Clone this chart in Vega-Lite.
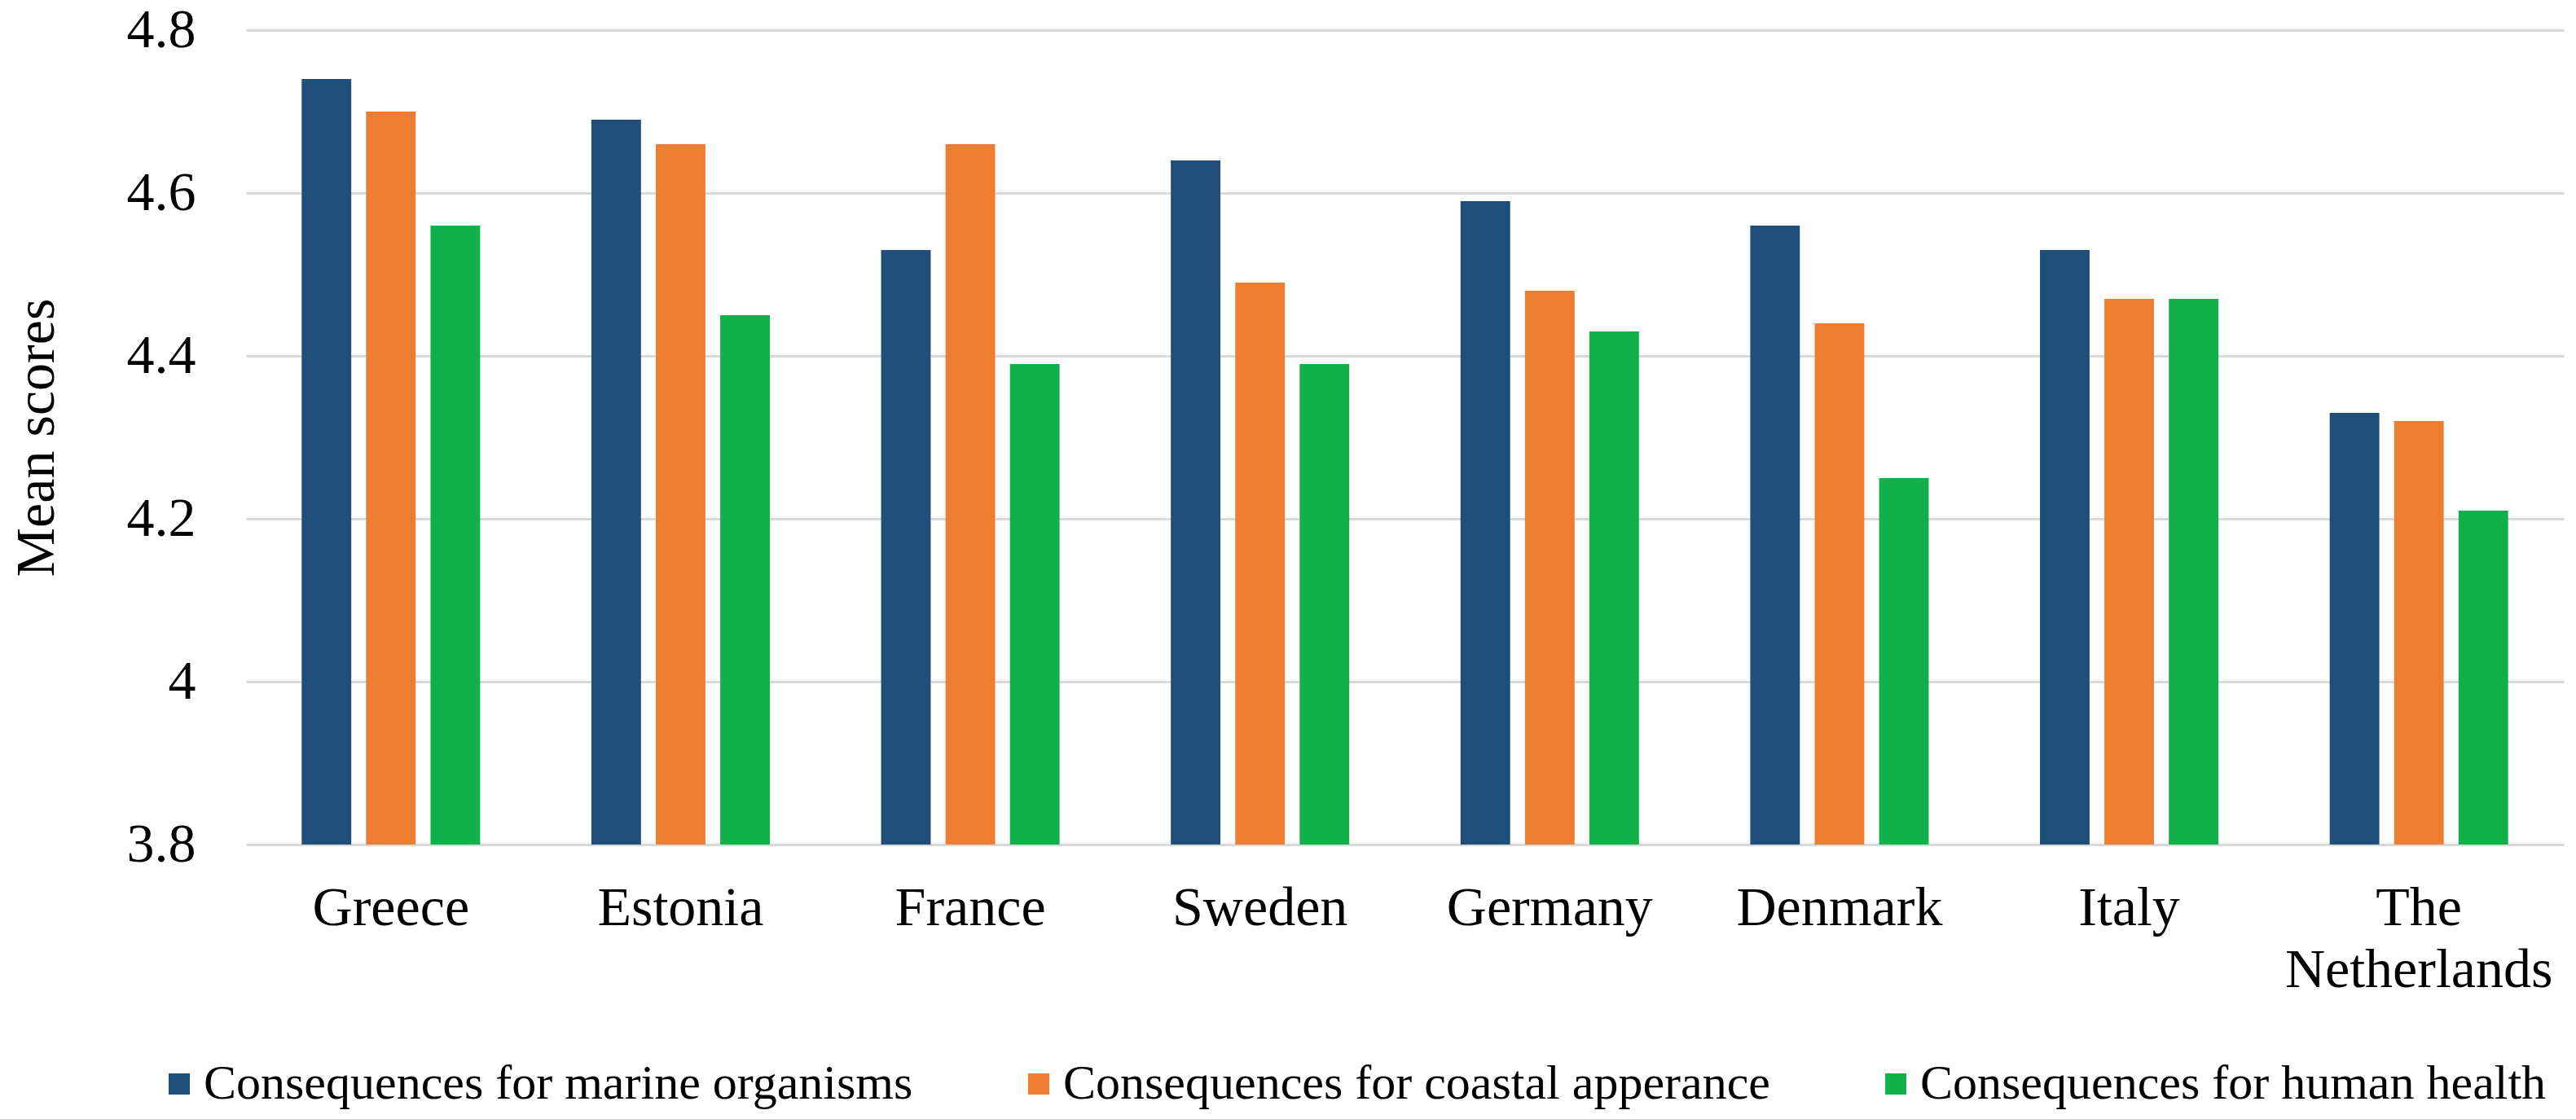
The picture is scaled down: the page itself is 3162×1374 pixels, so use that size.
{
  "$schema": "https://vega.github.io/schema/vega-lite/v6.json",
  "width": 2845,
  "height": 1000,
  "autosize": {"type": "none"},
  "padding": {"left": 302, "top": 37, "right": 15, "bottom": 337},
  "background": "white",
  "data": {
    "values": [
      {"country": "Greece", "series": "Consequences for marine organisms", "score": 4.74},
      {"country": "Greece", "series": "Consequences for coastal apperance", "score": 4.70},
      {"country": "Greece", "series": "Consequences for human health", "score": 4.56},
      {"country": "Estonia", "series": "Consequences for marine organisms", "score": 4.69},
      {"country": "Estonia", "series": "Consequences for coastal apperance", "score": 4.66},
      {"country": "Estonia", "series": "Consequences for human health", "score": 4.45},
      {"country": "France", "series": "Consequences for marine organisms", "score": 4.53},
      {"country": "France", "series": "Consequences for coastal apperance", "score": 4.66},
      {"country": "France", "series": "Consequences for human health", "score": 4.39},
      {"country": "Sweden", "series": "Consequences for marine organisms", "score": 4.64},
      {"country": "Sweden", "series": "Consequences for coastal apperance", "score": 4.49},
      {"country": "Sweden", "series": "Consequences for human health", "score": 4.39},
      {"country": "Germany", "series": "Consequences for marine organisms", "score": 4.59},
      {"country": "Germany", "series": "Consequences for coastal apperance", "score": 4.48},
      {"country": "Germany", "series": "Consequences for human health", "score": 4.43},
      {"country": "Denmark", "series": "Consequences for marine organisms", "score": 4.56},
      {"country": "Denmark", "series": "Consequences for coastal apperance", "score": 4.44},
      {"country": "Denmark", "series": "Consequences for human health", "score": 4.25},
      {"country": "Italy", "series": "Consequences for marine organisms", "score": 4.53},
      {"country": "Italy", "series": "Consequences for coastal apperance", "score": 4.47},
      {"country": "Italy", "series": "Consequences for human health", "score": 4.47},
      {"country": "The Netherlands", "series": "Consequences for marine organisms", "score": 4.33},
      {"country": "The Netherlands", "series": "Consequences for coastal apperance", "score": 4.32},
      {"country": "The Netherlands", "series": "Consequences for human health", "score": 4.21}
    ]
  },
  "mark": {"type": "bar", "clip": true},
  "encoding": {
    "x": {
      "field": "country",
      "type": "nominal",
      "sort": ["Greece", "Estonia", "France", "Sweden", "Germany", "Denmark", "Italy", "The Netherlands"],
      "scale": {"paddingInner": 0.384, "paddingOuter": 0.192},
      "axis": {
        "title": null,
        "labelAngle": 0,
        "domain": false,
        "ticks": false,
        "labelPadding": 44,
        "labelFont": "Liberation Serif",
        "labelFontSize": 68,
        "labelColor": "#000000",
        "labelLineHeight": 76,
        "labelLimit": 0,
        "labelExpr": "datum.label == 'The Netherlands' ? ['The', 'Netherlands'] : datum.label"
      }
    },
    "xOffset": {
      "field": "series",
      "type": "nominal",
      "sort": ["Consequences for marine organisms", "Consequences for coastal apperance", "Consequences for human health"],
      "scale": {"paddingInner": 0.23, "paddingOuter": 0}
    },
    "y": {
      "field": "score",
      "type": "quantitative",
      "scale": {"domain": [3.8, 4.8], "zero": false, "nice": false},
      "axis": {
        "title": "Mean scores",
        "values": [3.8, 4.0, 4.2, 4.4, 4.6, 4.8],
        "format": "~g",
        "domain": false,
        "ticks": false,
        "grid": true,
        "gridColor": "#d9d9d9",
        "gridWidth": 3,
        "labelPadding": 62,
        "labelFont": "Liberation Serif",
        "labelFontSize": 68,
        "labelColor": "#000000",
        "titleFont": "Liberation Serif",
        "titleFontSize": 68,
        "titleFontWeight": "normal",
        "titleColor": "#000000",
        "titlePadding": 76
      }
    },
    "color": {
      "field": "series",
      "type": "nominal",
      "scale": {
        "domain": ["Consequences for marine organisms", "Consequences for coastal apperance", "Consequences for human health"],
        "range": ["#1f4e79", "#ed7d31", "#12b04b"]
      },
      "legend": {
        "title": null,
        "orient": "none",
        "legendX": -112,
        "legendY": 1264,
        "direction": "horizontal",
        "columns": 3,
        "columnPadding": 124,
        "padding": 0,
        "symbolType": "square",
        "symbolSize": 676,
        "symbolStrokeWidth": 0,
        "labelOffset": 0,
        "labelFont": "Liberation Serif",
        "labelFontSize": 60,
        "labelColor": "#000000",
        "labelLimit": 2000
      }
    }
  },
  "config": {
    "view": {"stroke": null}
  }
}
